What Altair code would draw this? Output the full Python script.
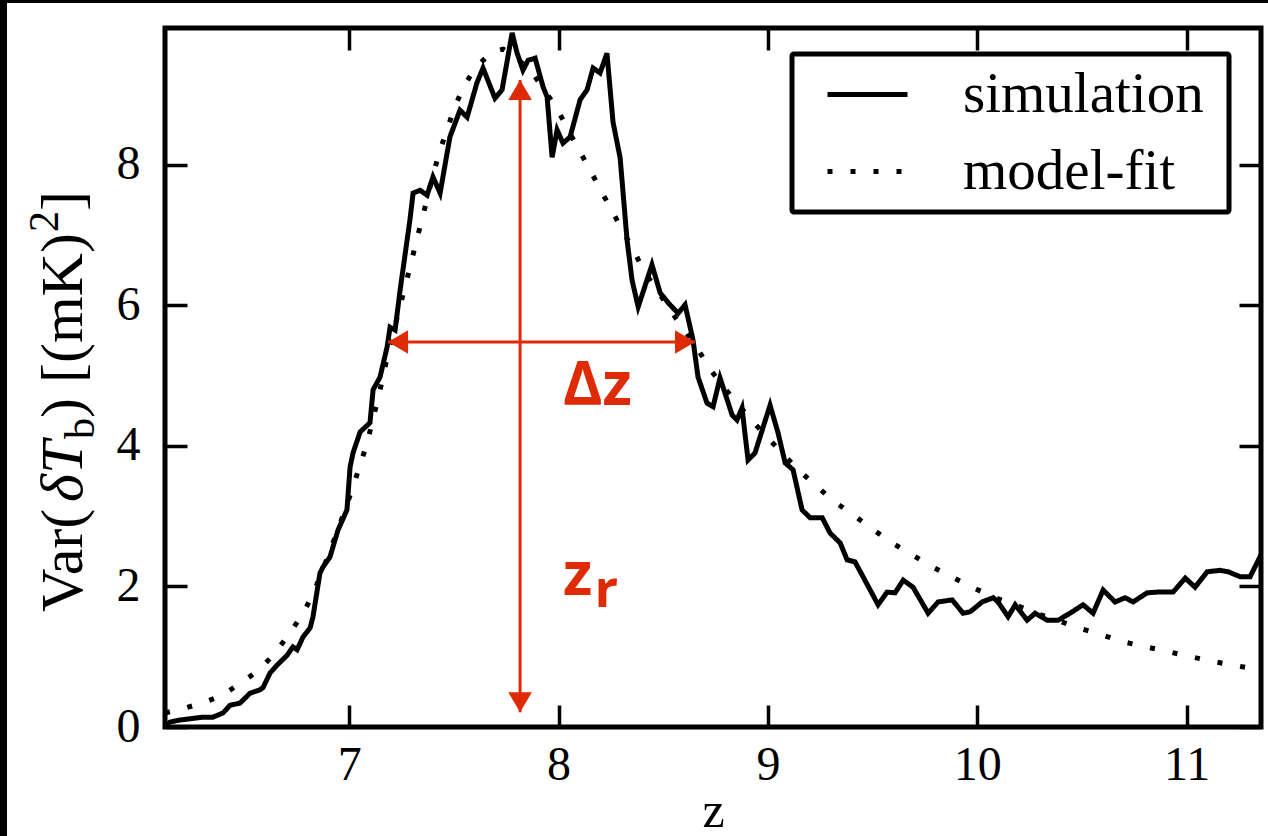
import altair as alt
import pandas as pd

# Simulated 21-cm brightness-temperature variance vs redshift
sim_z = [6.120, 6.144, 6.192, 6.302, 6.349, 6.397, 6.431, 6.478, 6.526, 6.574,
         6.588, 6.622, 6.655, 6.703, 6.731, 6.751, 6.779, 6.813, 6.827, 6.860,
         6.875, 6.908, 6.932, 6.946, 6.989, 7.004, 7.018, 7.052, 7.099, 7.114,
         7.147, 7.181, 7.195, 7.219, 7.243, 7.290, 7.305, 7.338, 7.372, 7.400,
         7.434, 7.481, 7.529, 7.563, 7.610, 7.639, 7.696, 7.730, 7.778, 7.802,
         7.830, 7.854, 7.888, 7.926, 7.945, 7.969, 7.993, 8.021, 8.055, 8.103,
         8.136, 8.165, 8.198, 8.231, 8.260, 8.294, 8.327, 8.351, 8.380, 8.446,
         8.485, 8.532, 8.571, 8.604, 8.642, 8.666, 8.709, 8.738, 8.771, 8.829,
         8.852, 8.876, 8.905, 8.938, 9.010, 9.048, 9.082, 9.120, 9.163, 9.201,
         9.259, 9.297, 9.345, 9.378, 9.416, 9.526, 9.569, 9.607, 9.646, 9.693,
         9.765, 9.813, 9.880, 9.932, 9.966, 10.023, 10.076, 10.099, 10.147, 10.181,
         10.238, 10.276, 10.333, 10.386, 10.443, 10.505, 10.553, 10.601, 10.658, 10.706,
         10.744, 10.811, 10.859, 10.935, 10.993, 11.040, 11.098, 11.160, 11.198, 11.255,
         11.303, 11.355]
sim_v = [0.00, 0.07, 0.10, 0.14, 0.14, 0.20, 0.31, 0.34, 0.48, 0.53,
         0.56, 0.77, 0.88, 1.02, 1.14, 1.10, 1.28, 1.41, 1.57, 2.19,
         2.28, 2.42, 2.66, 2.80, 3.09, 3.70, 3.90, 4.20, 4.33, 4.80,
         4.98, 5.41, 5.69, 5.65, 6.22, 7.22, 7.60, 7.64, 7.57, 7.83,
         7.60, 8.40, 8.78, 8.68, 9.17, 9.38, 8.95, 9.07, 9.88, 9.59,
         9.35, 9.49, 9.52, 9.11, 8.97, 8.11, 8.50, 8.31, 8.40, 8.93,
         9.07, 9.38, 9.31, 9.59, 8.61, 8.10, 6.93, 6.36, 5.98, 6.58,
         6.18, 6.01, 5.89, 6.01, 5.51, 4.98, 4.61, 4.56, 4.97, 4.44,
         4.37, 4.54, 3.80, 3.90, 4.58, 4.19, 3.76, 3.66, 3.09, 2.98,
         2.98, 2.76, 2.62, 2.38, 2.35, 1.74, 1.92, 1.91, 2.09, 1.99,
         1.62, 1.78, 1.81, 1.62, 1.64, 1.78, 1.84, 1.78, 1.57, 1.74,
         1.52, 1.62, 1.52, 1.52, 1.62, 1.74, 1.62, 1.95, 1.78, 1.84,
         1.78, 1.91, 1.92, 1.92, 2.12, 1.99, 2.21, 2.23, 2.21, 2.14,
         2.14, 2.45]

# Model fit to the simulated variance
fit_z = [6.120, 6.177, 6.287, 6.388, 6.483, 6.569, 6.645, 6.712, 6.774, 6.827,
         6.879, 6.927, 6.975, 7.018, 7.052, 7.085, 7.138, 7.161, 7.185, 7.266,
         7.295, 7.319, 7.348, 7.386, 7.429, 7.467, 7.501, 7.544, 7.601, 7.682,
         7.735, 7.782, 7.873, 7.931, 7.993, 8.040, 8.098, 8.150, 8.203, 8.255,
         8.308, 8.360, 8.403, 8.470, 8.532, 8.595, 8.661, 8.719, 8.786, 8.852,
         8.924, 9.001, 9.077, 9.153, 9.235, 9.321, 9.407, 9.497, 9.588, 9.684,
         9.779, 9.875, 9.975, 10.076, 10.181, 10.281, 10.381, 10.486, 10.596, 10.701,
         10.806, 10.916, 11.021, 11.131, 11.241, 11.355]
fit_v = [0.20, 0.24, 0.33, 0.44, 0.63, 0.81, 1.05, 1.32, 1.59, 1.89,
         2.28, 2.66, 3.05, 3.42, 3.73, 4.04, 4.68, 4.98, 5.32, 6.26,
         6.60, 6.90, 7.23, 7.69, 8.17, 8.50, 8.80, 9.10, 9.38, 9.61,
         9.65, 9.57, 9.32, 9.07, 8.80, 8.53, 8.21, 7.93, 7.63, 7.35,
         7.05, 6.78, 6.51, 6.22, 5.94, 5.67, 5.40, 5.11, 4.85, 4.61,
         4.36, 4.11, 3.87, 3.64, 3.42, 3.20, 3.02, 2.82, 2.63, 2.46,
         2.29, 2.14, 1.99, 1.85, 1.74, 1.62, 1.52, 1.41, 1.31, 1.21,
         1.14, 1.07, 1.00, 0.93, 0.87, 0.81]

series_names = ["simulation", "model-fit"]
x_ticks = [7, 8, 9, 10, 11]
y_ticks = [0, 2, 4, 6, 8]

# Reionization redshift z_r and duration Δz markers
z_r = 7.816
zr_span = [0.21, 9.21]
dz_level = 5.48
dz_span = [7.185, 8.652]

RED = "#de2a05"
SERIF = "Liberation Serif"

curves = pd.DataFrame({
    "z": sim_z + fit_z,
    "v": sim_v + fit_v,
    "series": [series_names[0]] * len(sim_z) + [series_names[1]] * len(fit_z),
})

xs = alt.Scale(domain=[6.12, 11.355], nice=False, zero=False)
ys = alt.Scale(domain=[0, 9.95], nice=False, zero=False)


def tick_axis(orient, values, labels=True, **kw):
    return alt.Axis(orient=orient, values=values, offset=-22, tickSize=22,
                    tickWidth=3.5, tickColor="black", domain=False, grid=False,
                    labels=labels, labelFont=SERIF, labelFontSize=48,
                    labelColor="black", **kw)


lines = alt.Chart(curves).mark_line(color="black", strokeWidth=5, clip=True,
                                    strokeCap="butt").encode(
    x=alt.X("z:Q", scale=xs,
            axis=tick_axis("bottom", x_ticks, labelPadding=14, format="d",
                           title="z", titleFont=SERIF, titleFontSize=50,
                           titleFontWeight="normal", titleColor="black",
                           titlePadding=-3)),
    y=alt.Y("v:Q", scale=ys,
            axis=tick_axis("left", y_ticks, labelPadding=25, format="d", title=None)),
    strokeDash=alt.StrokeDash(
        "series:N",
        scale=alt.Scale(domain=series_names, range=[[1, 0], [5, 18]]),
        # the white right-hand title only widens the framed box
        legend=alt.Legend(orient="none", legendX=627, legendY=26,
                          title="-", titleOrient="right", titleColor="white",
                          titleFontSize=16, titlePadding=16,
                          symbolType="stroke", symbolSize=6400,
                          symbolStrokeWidth=5, symbolStrokeColor="black",
                          symbolOffset=30, labelOffset=53, clipHeight=75,
                          labelFont=SERIF, labelFontSize=57, labelColor="black",
                          labelLimit=0,
                          strokeColor="black", fillColor="white",
                          padding=3, cornerRadius=2),
    ),
    order=alt.Order("z:Q"),
)

# Vertical arrow at z_r
zr_df = pd.DataFrame({"z": [z_r], "v0": [zr_span[0]], "v1": [zr_span[1]]})
zr_line = alt.Chart(zr_df).mark_rule(color=RED, strokeWidth=3).encode(
    x=alt.X("z:Q", scale=xs, axis=tick_axis("top", x_ticks, labels=False, title=None)),
    y=alt.Y("v0:Q", scale=ys, axis=tick_axis("right", y_ticks, labels=False, title=None)),
    y2="v1:Q",
)

# Horizontal arrow for Δz
dz_df = pd.DataFrame({"z0": [dz_span[0]], "z1": [dz_span[1]], "v": [dz_level]})
dz_line = alt.Chart(dz_df).mark_rule(color=RED, strokeWidth=3).encode(
    x=alt.X("z0:Q", scale=xs, axis=None),
    x2="z1:Q",
    y=alt.Y("v:Q", scale=ys, axis=None),
)

heads_df = pd.DataFrame({
    "z": [z_r, z_r, dz_span[0], dz_span[1]],
    "v": [zr_span[1], zr_span[0], dz_level, dz_level],
    "dir": ["up", "down", "left", "right"],
})
head_paths = {
    "up": "M0,0L-1,1.7L1,1.7Z",
    "down": "M0,0L-1,-1.7L1,-1.7Z",
    "left": "M0,0L1.7,-1L1.7,1Z",
    "right": "M0,0L-1.7,-1L-1.7,1Z",
}
heads = alt.layer(*[
    alt.Chart(heads_df[heads_df["dir"] == d]).mark_point(
        shape=p, filled=True, size=560, color=RED, opacity=1, strokeWidth=0
    ).encode(
        x=alt.X("z:Q", scale=xs, axis=None),
        y=alt.Y("v:Q", scale=ys, axis=None),
    )
    for d, p in head_paths.items()
])

labels_df = pd.DataFrame({
    "z": [8.021, 8.021, 8.172],
    "v": [4.58, 1.88, 1.71],
    "text": ["Δz", "z", "r"],
    "size": [60, 60, 52],
})
red_labels = alt.Chart(labels_df).mark_text(
    font="Open Sans", fontWeight="bold", color=RED, align="left",
    baseline="alphabetic"
).encode(
    x=alt.X("z:Q", scale=xs, axis=None),
    y=alt.Y("v:Q", scale=ys, axis=None),
    text="text:N",
    size=alt.Size("size:Q", scale=None, legend=None),
)

# Rotated y-axis title with sub/superscripts: Var(δT_b) [(mK)^2]
ytitle_parts = [
    ("Var(", 60, "normal", 0, 0),
    ("δT", 60, "italic", 110, 0),
    ("b", 42, "normal", 173, 12),
    (") [(mK)", 60, "normal", 194, 0),
    ("2", 42, "normal", 380, -24),
    ("]", 60, "normal", 401, 0),
]
ytitle = alt.layer(*[
    alt.Chart(pd.DataFrame({"t": [t]})).mark_text(
        font=SERIF, fontSize=fs, fontStyle=st, angle=270, align="left",
        baseline="alphabetic", dx=dx, dy=dy, color="black"
    ).encode(x=alt.value(-83), y=alt.value(584), text="t:N")
    for t, fs, st, dx, dy in ytitle_parts
])

# Dark strips along the left and top edges of the figure
edges = alt.layer(
    alt.Chart(pd.DataFrame({"a": [0]})).mark_rule(color="black", strokeWidth=7).encode(
        x=alt.value(-161.5), y=alt.value(-28), y2=alt.value(808)),
    alt.Chart(pd.DataFrame({"a": [0]})).mark_rule(color="black", strokeWidth=3).encode(
        y=alt.value(-26.5), x=alt.value(-165), x2=alt.value(1103)),
)

chart = alt.layer(
    lines, zr_line, dz_line, heads, red_labels, ytitle, edges
).resolve_axis(
    x="independent", y="independent"
).properties(
    width=1096, height=699,
    padding={"left": 165, "top": 28, "right": 7, "bottom": 109},
    autosize=alt.AutoSizeParams(type="none"),
    background="white",
).configure_view(
    stroke="black", strokeWidth=5
).configure_legend(
    strokeWidth=5
)

chart.save("out.html", embed_options={"renderer": "svg", "actions": False})
